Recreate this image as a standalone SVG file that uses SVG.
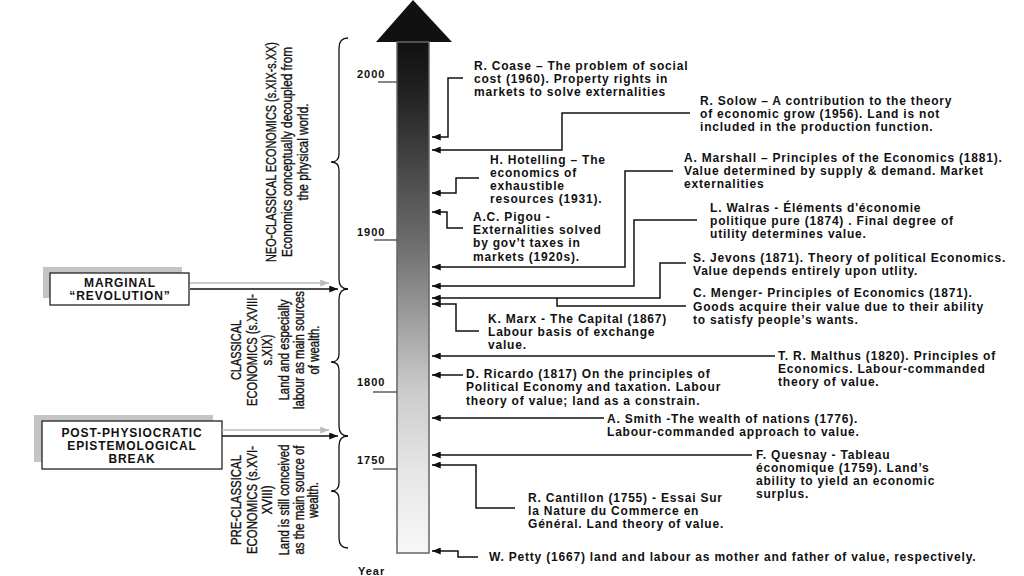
<svg xmlns="http://www.w3.org/2000/svg" width="1024" height="576" viewBox="0 0 1024 576">
<defs>
<linearGradient id="shaftGrad" gradientUnits="userSpaceOnUse" x1="0" y1="42" x2="0" y2="553">
<stop offset="0" stop-color="#101010"/>
<stop offset="0.1" stop-color="#222"/>
<stop offset="0.39" stop-color="#6c6c6c"/>
<stop offset="0.68" stop-color="#cbcbcb"/>
<stop offset="0.84" stop-color="#e6e6e6"/>
<stop offset="1" stop-color="#f7f7f7"/>
</linearGradient>
<marker id="ah" viewBox="0 0 10 8" refX="10" refY="4" markerWidth="9" markerHeight="7" markerUnits="userSpaceOnUse" orient="auto">
<path d="M0,0 L10,4 L0,8 z" fill="#111"/>
</marker>
<marker id="ahg" viewBox="0 0 10 8" refX="10" refY="4" markerWidth="9" markerHeight="7" markerUnits="userSpaceOnUse" orient="auto">
<path d="M0,0 L10,4 L0,8 z" fill="#bbb"/>
</marker>
</defs>
<style>
.t { font-family: "Liberation Sans", Arial, sans-serif; font-weight: bold; font-size: 12px; letter-spacing: 0.8px; fill: #111; }
.yr { font-family: "Liberation Sans", Arial, sans-serif; font-weight: bold; font-size: 11px; letter-spacing: 1px; fill: #111; }
.bx { font-family: "Liberation Sans", Arial, sans-serif; font-weight: bold; font-size: 12px; letter-spacing: 0.9px; fill: #111; text-anchor: middle; }
.rot { font-family: "Liberation Sans Narrow", "Liberation Sans", Arial, sans-serif; font-size: 14px; fill: #111; stroke: #111; stroke-width: 0.35px; text-anchor: middle; }
.conn { fill: none; stroke: #111; stroke-width: 1.5; }
.brace { fill: none; stroke: #111; stroke-width: 1.3; }
.tick { stroke: #444; stroke-width: 1.3; }
</style>
<rect x="0" y="0" width="1024" height="576" fill="#ffffff"/>

<g id="timeline">
<polygon points="413,0 452,42 376,42" fill="#111"/>
<rect x="397" y="42" width="32" height="511" fill="url(#shaftGrad)" stroke="#666" stroke-width="1.5"/>
<line class="tick" x1="378" y1="82" x2="397" y2="82"/>
<line class="tick" x1="374" y1="240" x2="397" y2="240"/>
<line class="tick" x1="373" y1="392" x2="397" y2="392"/>
<line class="tick" x1="373" y1="469" x2="397" y2="469"/>
<text class="yr" x="357" y="78">2000</text>
<text class="yr" x="357" y="236">1900</text>
<text class="yr" x="357" y="386">1800</text>
<text class="yr" x="357" y="464">1750</text>
<text class="yr" x="358" y="575">Year</text>
</g>

<g id="braces">
<path class="brace" d="M348,38 Q339,38 339,48 V154 Q339,162 331,162 Q339,162 339,170 V279 Q339,289 348,289"/>
<path class="brace" d="M348,289 Q339,289 339,299 V354 Q339,362 331,362 Q339,362 339,370 V426 Q339,436 348,436"/>
<path class="brace" d="M348,436 Q339,436 339,446 V483 Q339,491 331,491 Q339,491 339,499 V538 Q339,548 348,548"/>
</g>

<g id="period-neoclassical">
<text class="rot" transform="translate(276,152) rotate(-90)" textLength="220" lengthAdjust="spacingAndGlyphs">NEO-CLASSICAL ECONOMICS (s.XIX-s.XX)</text>
<text class="rot" transform="translate(292,152) rotate(-90)" textLength="210" lengthAdjust="spacingAndGlyphs">Economics conceptually decoupled from</text>
<text class="rot" transform="translate(308,152) rotate(-90)" textLength="97" lengthAdjust="spacingAndGlyphs">the physical world.</text>
</g>

<g id="period-classical">
<text class="rot" transform="translate(241,350) rotate(-90)" textLength="60" lengthAdjust="spacingAndGlyphs">CLASSICAL</text>
<text class="rot" transform="translate(257,350) rotate(-90)" textLength="112" lengthAdjust="spacingAndGlyphs">ECONOMICS (s.XVIII-</text>
<text class="rot" transform="translate(272,350) rotate(-90)" textLength="31" lengthAdjust="spacingAndGlyphs">s.XIX)</text>
<text class="rot" transform="translate(289,350) rotate(-90)" textLength="101" lengthAdjust="spacingAndGlyphs">Land and especially</text>
<text class="rot" transform="translate(304,350) rotate(-90)" textLength="118" lengthAdjust="spacingAndGlyphs">labour as main sources</text>
<text class="rot" transform="translate(319,350) rotate(-90)" textLength="49" lengthAdjust="spacingAndGlyphs">of wealth.</text>
</g>

<g id="period-preclassical">
<text class="rot" transform="translate(241,500) rotate(-90)" textLength="90" lengthAdjust="spacingAndGlyphs">PRE-CLASSICAL</text>
<text class="rot" transform="translate(257,500) rotate(-90)" textLength="108" lengthAdjust="spacingAndGlyphs">ECONOMICS (s.XVI-</text>
<text class="rot" transform="translate(272,500) rotate(-90)" textLength="29" lengthAdjust="spacingAndGlyphs">XVIII)</text>
<text class="rot" transform="translate(289,500) rotate(-90)" textLength="111" lengthAdjust="spacingAndGlyphs">Land is still conceived</text>
<text class="rot" transform="translate(304,500) rotate(-90)" textLength="109" lengthAdjust="spacingAndGlyphs">as the main source of</text>
<text class="rot" transform="translate(318,500) rotate(-90)" textLength="36" lengthAdjust="spacingAndGlyphs">wealth.</text>
</g>

<g id="box-marginal">
<rect x="43" y="267" width="139" height="31" fill="#c4c4c4"/>
<rect x="50" y="273" width="139" height="32" fill="#fff" stroke="#222" stroke-width="1.3"/>
<text class="bx" x="120" y="287">MARGINAL</text>
<text class="bx" x="120" y="300">“REVOLUTION”</text>
</g>

<g id="box-postphysiocratic">
<rect x="34" y="415" width="179" height="47" fill="#c4c4c4"/>
<rect x="42" y="421" width="180" height="48" fill="#fff" stroke="#222" stroke-width="1.3"/>
<text class="bx" x="132" y="437">POST-PHYSIOCRATIC</text>
<text class="bx" x="132" y="450">EPISTEMOLOGICAL</text>
<text class="bx" x="132" y="463">BREAK</text>
</g>

<g id="connectors">
<line x1="190" y1="283" x2="329" y2="283" stroke="#bbb" stroke-width="1.3" marker-end="url(#ahg)"/>
<line x1="190" y1="289" x2="338" y2="289" stroke="#111" stroke-width="1.3" marker-end="url(#ah)"/>
<line x1="222" y1="430" x2="329" y2="430" stroke="#bbb" stroke-width="1.3" marker-end="url(#ahg)"/>
<line x1="222" y1="436" x2="338" y2="436" stroke="#111" stroke-width="1.3" marker-end="url(#ah)"/>

<path class="conn" d="M463,78 H448 V137 H432" marker-end="url(#ah)"/>
<path class="conn" d="M690,113 H562 V150 H432" marker-end="url(#ah)"/>
<path class="conn" d="M479,178 H456 V193 H432" marker-end="url(#ah)"/>
<path class="conn" d="M463,228 H447 V212 H432" marker-end="url(#ah)"/>
<path class="conn" d="M673,171 H625 V267 H432" marker-end="url(#ah)"/>
<path class="conn" d="M697,220 H634 V286 H432" marker-end="url(#ah)"/>
<path class="conn" d="M686,263 H660 V298 H432" marker-end="url(#ah)"/>
<path class="conn" d="M686,306 H557 V298"/>
<path class="conn" d="M479,331 H456 V304 H432" marker-end="url(#ah)"/>
<path class="conn" d="M775,356 H432" marker-end="url(#ah)"/>
<path class="conn" d="M463,375 H432" marker-end="url(#ah)"/>
<path class="conn" d="M604,418 H432" marker-end="url(#ah)"/>
<path class="conn" d="M752,455 H432" marker-end="url(#ah)"/>
<path class="conn" d="M515,508 H476 V465 H432" marker-end="url(#ah)"/>
<path class="conn" d="M478,557 H458 V551 H432" marker-end="url(#ah)"/>
</g>

<g id="coase">
<text class="t" x="474" y="70">R. Coase – The problem of social</text>
<text class="t" x="474" y="83">cost (1960). Property rights in</text>
<text class="t" x="474" y="96">markets to solve externalities</text>
</g>
<g id="solow">
<text class="t" x="700" y="105">R. Solow – A contribution to the theory</text>
<text class="t" x="700" y="118">of economic grow (1956). Land is not</text>
<text class="t" x="700" y="131">included in the production function.</text>
</g>
<g id="hotelling">
<text class="t" x="490" y="164">H. Hotelling – The</text>
<text class="t" x="490" y="177">economics of</text>
<text class="t" x="490" y="190">exhaustible</text>
<text class="t" x="490" y="203">resources (1931).</text>
</g>
<g id="marshall">
<text class="t" x="684" y="162">A. Marshall – Principles of the Economics (1881).</text>
<text class="t" x="684" y="175">Value determined by supply &amp; demand. Market</text>
<text class="t" x="684" y="188">externalities</text>
</g>
<g id="pigou">
<text class="t" x="473" y="221">A.C. Pigou -</text>
<text class="t" x="473" y="234">Externalities solved</text>
<text class="t" x="473" y="247">by gov’t taxes in</text>
<text class="t" x="473" y="261">markets (1920s).</text>
</g>
<g id="walras">
<text class="t" x="710" y="212">L. Walras - Éléments d'économie</text>
<text class="t" x="710" y="225">politique pure (1874) . Final degree of</text>
<text class="t" x="710" y="238">utility determines value.</text>
</g>
<g id="jevons">
<text class="t" x="693" y="262">S. Jevons (1871). Theory of political Economics.</text>
<text class="t" x="693" y="275">Value depends entirely upon utlity.</text>
</g>
<g id="menger">
<text class="t" x="693" y="297">C. Menger- Principles of Economics (1871).</text>
<text class="t" x="693" y="311">Goods acquire their value due to their ability</text>
<text class="t" x="693" y="324">to satisfy people’s wants.</text>
</g>
<g id="marx">
<text class="t" x="488" y="323">K. Marx - The Capital (1867)</text>
<text class="t" x="488" y="336">Labour basis of exchange</text>
<text class="t" x="488" y="349">value.</text>
</g>
<g id="malthus">
<text class="t" x="778" y="360">T. R. Malthus (1820). Principles of</text>
<text class="t" x="778" y="373">Economics. Labour-commanded</text>
<text class="t" x="778" y="386">theory of value.</text>
</g>
<g id="ricardo">
<text class="t" x="466" y="378">D. Ricardo (1817) On the principles of</text>
<text class="t" x="466" y="391">Political Economy and taxation. Labour</text>
<text class="t" x="466" y="405">theory of value; land as a constrain.</text>
</g>
<g id="smith">
<text class="t" x="607" y="423">A. Smith -The wealth of nations (1776).</text>
<text class="t" x="607" y="436">Labour-commanded approach to value.</text>
</g>
<g id="quesnay">
<text class="t" x="756" y="459">F. Quesnay - Tableau</text>
<text class="t" x="756" y="472">économique (1759). Land’s</text>
<text class="t" x="756" y="485">ability to yield an economic</text>
<text class="t" x="756" y="498">surplus.</text>
</g>
<g id="cantillon">
<text class="t" x="528" y="502">R. Cantillon (1755) - Essai Sur</text>
<text class="t" x="528" y="515">la Nature du Commerce en</text>
<text class="t" x="528" y="528">Général. Land theory of value.</text>
</g>
<g id="petty">
<text class="t" x="489" y="561">W. Petty (1667) land and labour as mother and father of value, respectively.</text>
</g>
</svg>
